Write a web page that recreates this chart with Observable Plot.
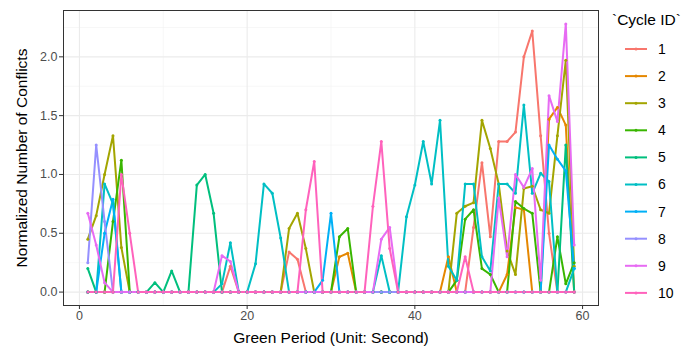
<!DOCTYPE html>
<html><head><meta charset="utf-8">
<script src="https://cdn.jsdelivr.net/npm/d3@7"></script>
<script src="https://cdn.jsdelivr.net/npm/@observablehq/plot@0.6"></script>
<style>
body{margin:0;background:#fff;font-family:"Liberation Sans",Arial,sans-serif;}
#wrap{position:relative;width:697px;height:350px;overflow:hidden;}
#chart{position:absolute;left:0;top:0;}
#legend{position:absolute;left:600px;top:0;}
</style></head><body><div id="wrap"><div id="chart"></div><div id="legend"></div></div>
<script>
const greenPeriod = [1,2,3,4,5,6,7,8,9,10,11,12,13,14,15,16,17,18,19,20,21,22,23,24,25,26,27,28,29,30,31,32,33,34,35,36,37,38,39,40,41,42,43,44,45,46,47,48,49,50,51,52,53,54,55,56,57,58,59];
const cycleIds = ["1","2","3","4","5","6","7","8","9","10"];
const cycleColors = ["#F8766D","#E58700","#A3A500","#39B600","#00BF7D","#00BFC4","#00B0F6","#9590FF","#E76BF3","#FF62BC"];
//                 1    2    3    4    5    6    7    8    9    10   11   12   13   14   15   16   17   18   19   20   21   22   23   24   25   26   27   28   29   30   31   32   33   34   35   36   37   38   39   40   41   42   43   44   45   46   47   48   49   50   51   52   53   54   55   56   57   58   59
const cycle1  = [0,   0,   0,   0,   0,   0,   0,   0,   0,   0,   0,   0,   0,   0,   0,   0,   0,   0.22,0,   0,   0,   0,   0,   0,   0.34,0.28,0,   0,   0,   0,   0,   0,   0,   0,   0,   0,   0,   0,   0,   0,   0,   0,   0,   0,   0,   0,   0.55,1.10,0.47,1.28,1.28,1.36,2.00,2.22,1.33,0.50,0,   0,   0];
const cycle2  = [0,   0,   0,   0,   0,   0,   0,   0,   0,   0,   0,   0,   0,   0,   0,   0,   0,   0,   0,   0,   0,   0,   0,   0,   0,   0,   0,   0,   0,   0,   0.30,0.33,0,   0,   0,   0,   0,   0,   0,   0,   0,   0,   0,   0.30,0,   0,   0,   0,   0,   0,   0.15,0.72,0.70,0,   0,   1.47,1.57,1.42,0];
const cycle3  = [0.45,0.65,1.00,1.33,0.38,0,   0,   0,   0,   0,   0,   0,   0,   0,   0,   0,   0,   0,   0,   0,   0,   0,   0,   0,   0.54,0.67,0.37,0,   0,   0,   0,   0,   0,   0,   0,   0,   0,   0,   0,   0,   0,   0,   0,   0,   0.67,0.73,0.76,1.46,1.22,0.92,0.35,0.15,0.88,0.90,0.70,0.67,1.33,1.97,0.22];
const cycle4  = [0,   0,   0,   0.60,1.12,0,   0,   0,   0,   0,   0,   0,   0,   0,   0,   0,   0,   0,   0,   0,   0,   0,   0,   0,   0,   0,   0,   0,   0,   0,   0.47,0.54,0,   0,   0,   0,   0,   0,   0,   0,   0,   0,   0,   0,   0.10,0.62,0.70,0.20,0.15,0,   0,   0.77,0.71,0.67,0,   0,   0.47,0.07,0.25];
const cycle5  = [0.20,0,   0,   0,   0,   0,   0,   0,   0.08,0,   0.18,0,   0,   0.91,1.00,0.67,0,   0,   0,   0,   0,   0,   0,   0,   0,   0,   0,   0,   0,   0,   0,   0,   0,   0,   0,   0,   0,   0,   0,   0,   0,   0,   0,   0,   0,   0,   0,   0,   0,   0,   0,   0,   0,   0,   0,   0,   0,   1.25,0];
const cycle6  = [0,   0,   0.92,0.75,0,   0,   0,   0,   0,   0,   0,   0,   0,   0,   0,   0,   0.07,0.42,0,   0,   0.24,0.92,0.84,0.46,0,   0,   0,   0,   0,   0,   0,   0,   0,   0,   0,   0.31,0,   0,   0.64,0.91,1.28,0.92,1.46,0.22,0.10,0.92,0.92,0.30,0.18,0.92,0.92,0.84,1.59,0.84,1.01,0.94,0,   0,   0.20];
const cycle7  = [0,   0,   0.50,0.79,0,   0,   0,   0,   0,   0,   0,   0,   0,   0,   0,   0,   0,   0,   0,   0,   0,   0,   0,   0,   0,   0,   0,   0,   0.10,0.67,0,   0,   0,   0,   0,   0,   0,   0,   0,   0,   0,   0,   0,   0,   0,   0,   0,   0,   0,   0,   0,   0,   0,   0,   0,   1.25,1.13,1.03,0.20];
const cycle8  = [0.25,1.25,0.60,0,   0,   0,   0,   0,   0,   0,   0,   0,   0,   0,   0,   0,   0,   0,   0,   0,   0,   0,   0,   0,   0,   0,   0,   0,   0,   0,   0,   0,   0,   0,   0,   0,   0,   0,   0,   0,   0,   0,   0,   0,   0,   0,   0,   0,   0,   0,   0,   0,   0,   0,   0,   0,   0,   0,   0];
const cycle9  = [0.67,0.40,0.08,0,   0,   0,   0,   0,   0,   0,   0,   0,   0,   0,   0,   0,   0.31,0.26,0,   0,   0,   0,   0,   0,   0,   0,   0,   0,   0,   0,   0,   0,   0,   0,   0,   0.45,0.55,0,   0,   0,   0,   0,   0,   0,   0,   0,   0,   0,   0,   0.80,0.30,1.00,0.89,1.05,0.10,1.67,1.45,2.28,0.40];
const cycle10 = [0,   0,   0,   0,   1.00,0.50,0,   0,   0,   0,   0,   0,   0,   0,   0,   0,   0,   0,   0,   0,   0,   0,   0,   0,   0,   0,   0.70,1.11,0,   0,   0,   0,   0,   0,   0.73,1.28,0.37,0,   0,   0,   0,   0,   0,   0,   0,   0.30,0,   0,   0,   0,   0,   0,   0,   0,   0,   0,   0,   0,   0];
const xTicks = [0, 20, 40, 60];
const xMinor = [10, 30, 50];
const yTicks = [0, 0.5, 1.0, 1.5, 2.0];
const yMinor = [0.25, 0.75, 1.25, 1.75, 2.25];
const xTitle = "Green Period (Unit: Second)";
const yTitle = "Normalized Number of Conflicts";
const legendTitle = "`Cycle ID`";

const series = [cycle1,cycle2,cycle3,cycle4,cycle5,cycle6,cycle7,cycle8,cycle9,cycle10];
const rows = [];
series.forEach((vals, i) => vals.forEach((v, j) => rows.push({x: greenPeriod[j], y: v, id: cycleIds[i]})));

const font = '"Liberation Sans", Arial, sans-serif';
const chart = Plot.plot({
  width: 600, height: 350,
  marginLeft: 63, marginRight: 2, marginTop: 10, marginBottom: 45,
  x: {domain: [-1.9, 61.9]},
  y: {domain: [-0.114, 2.394]},
  color: {domain: cycleIds, range: cycleColors},
  style: {fontFamily: font, background: "white", overflow: "visible"},
  marks: [
    Plot.gridX(xMinor, {stroke: "#F2F2F2", strokeOpacity: 1, strokeWidth: 0.6}),
    Plot.gridY(yMinor, {stroke: "#F2F2F2", strokeOpacity: 1, strokeWidth: 0.6}),
    Plot.gridX(xTicks, {stroke: "#EBEBEB", strokeOpacity: 1, strokeWidth: 1.1}),
    Plot.gridY(yTicks, {stroke: "#EBEBEB", strokeOpacity: 1, strokeWidth: 1.1}),
    Plot.line(rows, {x: "x", y: "y", z: "id", stroke: "id", strokeWidth: 2, strokeLinejoin: "round"}),
    Plot.dot(rows, {x: "x", y: "y", fill: "id", r: 1.5}),
    Plot.frame({stroke: "#333333", strokeWidth: 1}),
    Plot.axisX(xTicks, {tickSize: 4, stroke: "#333333", tickPadding: 2, fontSize: 12.5, fill: "#4D4D4D", label: null}),
    Plot.axisY(yTicks, {tickSize: 4, stroke: "#333333", tickPadding: 2, fontSize: 12.5, fill: "#4D4D4D", label: null, tickFormat: d => d.toFixed(1)}),
    Plot.text([xTitle], {frameAnchor: "bottom", dy: 33, fontSize: 15.5, fill: "black", lineAnchor: "middle"}),
    Plot.text([yTitle], {frameAnchor: "left", dx: -41, rotate: -90, textAnchor: "middle", fontSize: 15.5, fill: "black", lineAnchor: "middle"})
  ]
});
document.getElementById("chart").appendChild(chart);

// legend
const lg = d3.select("#legend").append("svg").attr("width", 97).attr("height", 350).style("font-family", font);
lg.append("text").attr("x", 12).attr("y", 20).attr("dy", "0.35em").attr("font-size", 15.5).text(legendTitle);
const item = lg.selectAll("g.item").data(cycleIds).join("g").attr("class", "item")
  .attr("transform", (d, i) => `translate(0,${49 + i * 27.1})`);
item.append("line").attr("x1", 25).attr("x2", 47).attr("stroke", (d, i) => cycleColors[i]).attr("stroke-width", 2);
item.append("circle").attr("cx", 36).attr("r", 1.5).attr("fill", (d, i) => cycleColors[i]);
item.append("text").attr("x", 58).attr("dy", "0.35em").attr("font-size", 14).attr("fill", "black").text(d => d);
</script></body></html>
